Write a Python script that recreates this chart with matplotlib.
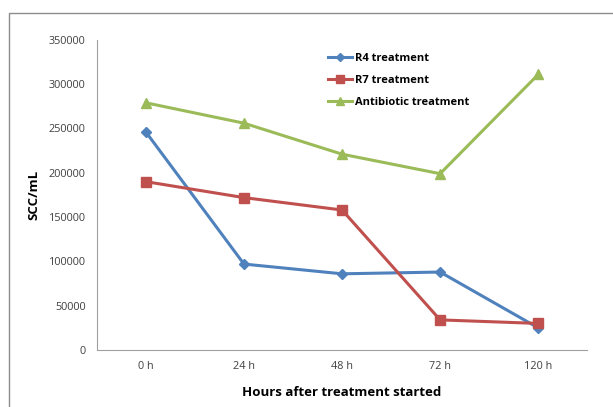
import matplotlib.pyplot as plt
from matplotlib.patches import Rectangle

hours = ["0 h", "24 h", "48 h", "72 h", "120 h"]
r4 = [246000, 97000, 86000, 88000, 25000]
r7 = [190000, 172000, 158000, 34000, 30000]
antibiotic = [279000, 256000, 221000, 199000, 311000]

plt.rcParams['font.family'] = ['Open Sans', 'DejaVu Sans']

fig = plt.figure(figsize=(6.13, 4.07), dpi=100)
ax = fig.add_axes([0.158, 0.140, 0.800, 0.762])

# outer frame like the exported sheet
fig.patches.append(Rectangle((0.015, -0.01), 1.0, 0.978, transform=fig.transFigure,
                             fill=False, edgecolor='#8c8c8c', linewidth=1.0))

x = [i + 0.5 for i in range(len(hours))]
ax.plot(x, r4, color='#4F81BD', marker='D', markersize=5, linewidth=2.2, label='R4 treatment')
ax.plot(x, r7, color='#C0504D', marker='s', markersize=7, linewidth=2.2, label='R7 treatment')
ax.plot(x, antibiotic, color='#9BBB59', marker='^', markersize=7, linewidth=2.2, label='Antibiotic treatment')

ax.set_xlim(0, len(hours))
ax.set_ylim(0, 350000)
ax.set_yticks(range(0, 350001, 50000))
ax.set_xticks(x)
ax.set_xticklabels(hours)
ax.tick_params(axis='both', length=0, labelsize=7.8, colors='#404040', pad=8)

for s in ['top', 'right']:
    ax.spines[s].set_visible(False)
for s in ['left', 'bottom']:
    ax.spines[s].set_color('#a0a0a0')

ax.set_ylabel('SCC/mL', fontsize=9.5, fontweight='bold', labelpad=6)
ax.set_xlabel('Hours after treatment started', fontsize=9.5, fontweight='bold', labelpad=10)

ax.legend(loc='upper left', bbox_to_anchor=(0.45, 0.99), frameon=False,
          handlelength=2.2, handletextpad=0.3, labelspacing=1.0, markerscale=0.8,
          prop={'weight': 'bold', 'size': 8})

fig.savefig('out.png', dpi=100)
